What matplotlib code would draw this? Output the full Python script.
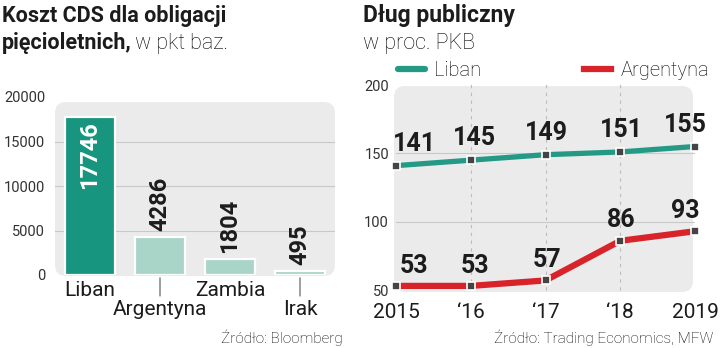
import matplotlib
matplotlib.use('Agg')
import matplotlib.pyplot as plt
from matplotlib.patches import FancyBboxPatch
from matplotlib.transforms import IdentityTransform
from matplotlib.lines import Line2D

# left chart: CDS cost, basis points
countries = ['Liban', 'Argentyna', 'Zambia', 'Irak']
cds = [17746, 4286, 1804, 495]
cds_ticks = [0, 5000, 10000, 15000, 20000]

# right chart: public debt, % of GDP
years = [2015, 2016, 2017, 2018, 2019]
year_labels = ['2015', '‘16', '‘17', '‘18', '2019']
debt_liban = [141, 145, 149, 151, 155]
debt_argentyna = [53, 53, 57, 86, 93]
debt_ticks = [50, 100, 150, 200]

plt.rcParams['font.family'] = ['Roboto', 'DejaVu Sans']

W, H = 720, 348
TEAL = '#17957e'
TEAL_LINE = '#249a86'
LIGHT = '#a8d5c7'
RED = '#d8232a'
INK = '#1c1c1c'
THIN = '#000000'
GRID = '#c8c8c8'
PANEL = '#ebebeb'


def box(x0, y0, x1, y1):
    # pixel box (top-left origin) -> figure fraction
    return [x0 / W, 1 - y1 / H, (x1 - x0) / W, (y1 - y0) / H]


def panel(fig, x0, y0, x1, y1):
    p = FancyBboxPatch((x0, H - y1), x1 - x0, y1 - y0,
                       boxstyle='round,pad=0,rounding_size=11',
                       transform=IdentityTransform(), fc=PANEL, ec='none', zorder=-5)
    fig.add_artist(p)


fig = plt.figure(figsize=(W / 100, H / 100), dpi=100)

# ---------- left: bars ----------
panel(fig, 55, 102, 335, 276)
ax1 = fig.add_axes(box(55, 97, 335, 275))
ax1.set_facecolor('none')
ax1.set_xlim(-0.5, 3.5)
ax1.set_ylim(0, 20000)
for s in ax1.spines.values():
    s.set_visible(False)
for v in cds_ticks[1:-1]:
    ax1.axhline(v, color=GRID, lw=0.8, zorder=1)

x = list(range(len(countries)))
ax1.bar(x, cds, width=0.72, color=[TEAL] + [LIGHT] * 3,
        edgecolor='white', linewidth=1.6, zorder=3)
ax1.set_xticks([])
ax1.set_yticks(cds_ticks)
ax1.tick_params(axis='y', length=0, pad=7, labelsize=10.5, labelcolor='#333333')

for i, v in enumerate(cds):
    if i == 0:
        ax1.annotate(str(v), (i, v), xytext=(0, -3), textcoords='offset points',
                     rotation=90, ha='center', va='top', color='white',
                     fontsize=17, fontweight='bold', zorder=5)
    else:
        ax1.annotate(str(v), (i, v), xytext=(0, 4), textcoords='offset points',
                     rotation=90, ha='center', va='bottom', color=INK,
                     fontsize=17, fontweight='bold', zorder=5)

for i, name in enumerate(countries):
    if i % 2 == 0:
        ax1.annotate(name, (i, 0), xytext=(0, -11), textcoords='offset points',
                     ha='center', va='center', fontsize=15, color=INK,
                     annotation_clip=False)
    else:
        ax1.annotate(name, (i, 0), xytext=(0, -25), textcoords='offset points',
                     ha='center', va='center', fontsize=15, color=INK,
                     annotation_clip=False,
                     arrowprops=dict(arrowstyle='-', color='#555555', lw=0.8,
                                     shrinkA=1, shrinkB=2))

# ---------- right: lines ----------
panel(fig, 394, 86, 693, 292)
ax2 = fig.add_axes(box(396, 85, 695, 290))
ax2.set_facecolor('none')
ax2.set_xlim(2015, 2019)
ax2.set_ylim(50, 200)
for s in ax2.spines.values():
    s.set_visible(False)
for v in debt_ticks[1:-1]:
    ax2.axhline(v, color=GRID, lw=0.8, zorder=1, xmin=-0.01)
ax2.vlines(years[1:-1], 50, 203, colors='#bdbdbd', lw=0.8,
           linestyles=(0, (3, 4)), zorder=1, clip_on=False)

ax2.plot(years, debt_liban, color=TEAL_LINE, lw=3.8, marker='s', ms=5.5,
         mfc='#444444', mec='white', mew=1.2, clip_on=False, zorder=4)
ax2.plot(years, debt_argentyna, color=RED, lw=4.5, marker='s', ms=5.5,
         mfc='#444444', mec='white', mew=1.2, clip_on=False, zorder=4,
         solid_joinstyle='round')

dx = [13, 3, 1, 1, -7]
for i, yr in enumerate(years):
    ax2.annotate(str(debt_liban[i]), (yr, debt_liban[i]), xytext=(dx[i], 7),
                 textcoords='offset points', ha='center', va='bottom',
                 fontsize=18, fontweight='bold', color=INK, annotation_clip=False)
    ax2.annotate(str(debt_argentyna[i]), (yr, debt_argentyna[i]), xytext=(dx[i], 6),
                 textcoords='offset points', ha='center', va='bottom',
                 fontsize=18, fontweight='bold', color=INK, annotation_clip=False)

ax2.set_xticks(years, year_labels)
ax2.set_yticks(debt_ticks)
ax2.tick_params(axis='x', length=0, pad=9, labelsize=15, labelcolor=INK)
ax2.tick_params(axis='y', length=0, pad=5, labelsize=10.5, labelcolor='#333333')

handles = [Line2D([], [], color=TEAL_LINE, lw=4.5, solid_capstyle='round'),
           Line2D([], [], color=RED, lw=4.5)]
leg = fig.legend(handles, ['Liban', 'Argentyna'], ncol=2, loc='center left',
                 bbox_to_anchor=(398 / W, 1 - 71 / H), frameon=False,
                 handlelength=1.35, handletextpad=0.45, columnspacing=5.1,
                 borderpad=0, borderaxespad=0, prop={'weight': 'light', 'size': 14.5})
for t in leg.get_texts():
    t.set_color(THIN)

# ---------- titles and sources ----------
fig.text(2 / W, 1 - 22 / H, 'Koszt CDS dla obligacji', fontsize=15.5,
         fontweight='bold', va='baseline', color=INK)
t2 = fig.text(2 / W, 1 - 49 / H, 'pięcioletnich,', fontsize=15.5,
              fontweight='bold', va='baseline', color=INK)
ax1.annotate('w pkt baz.', xy=(1, 0), xycoords=t2, xytext=(2, 0),
             textcoords='offset points', va='bottom', ha='left',
             fontsize=15.5, fontweight='light', color=THIN, annotation_clip=False)
fig.text(363 / W, 1 - 22 / H, 'Dług publiczny', fontsize=16.5,
         fontweight='bold', va='baseline', color=INK)
fig.text(363 / W, 1 - 49 / H, 'w proc. PKB', fontsize=15.5,
         fontweight='light', va='baseline', color=THIN)

fig.text(343 / W, 1 - 338 / H, 'Źródło: Bloomberg', fontsize=11,
         fontweight='light', ha='right', va='center', color=THIN)
fig.text(713 / W, 1 - 338 / H, 'Źródło: Trading Economics, MFW', fontsize=11,
         fontweight='light', ha='right', va='center', color=THIN)

fig.savefig('out.png', dpi=100)
